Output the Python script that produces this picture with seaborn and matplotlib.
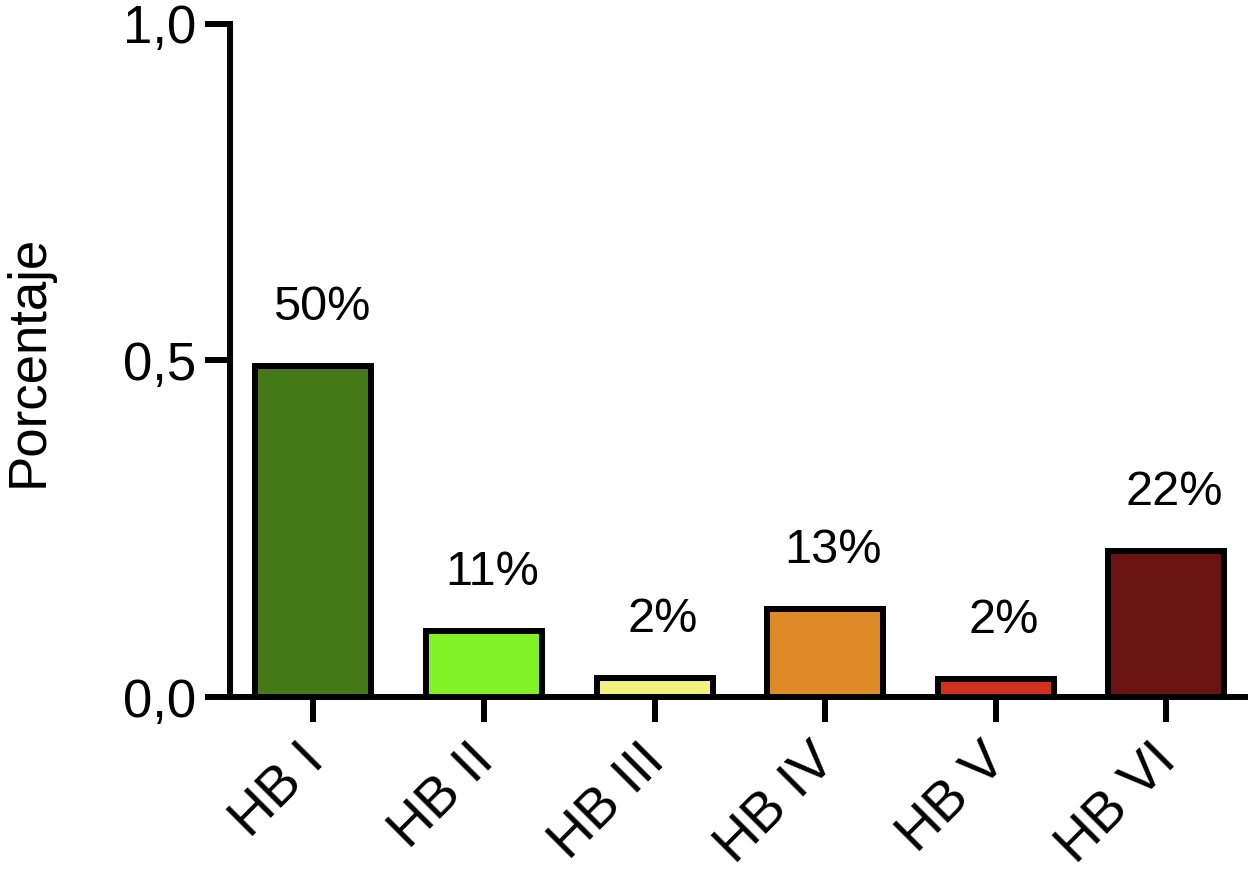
"""Bar chart: distribution of House-Brackmann grades."""
import matplotlib
matplotlib.use("Agg")
import matplotlib.pyplot as plt
import matplotlib.ticker as mticker
import matplotlib.transforms as mtransforms
import pandas as pd
import seaborn as sns

grades = ["HB I", "HB II", "HB III", "HB IV", "HB V", "HB VI"]
proportions = [0.492, 0.098, 0.028, 0.131, 0.027, 0.217]
bar_labels = ["50%", "11%", "2%", "13%", "2%", "22%"]
bar_colors = ["#437a17", "#80f226", "#f4f07c", "#de8a26", "#d3301f", "#6a1411"]

sns.set_theme(style="white")
plt.rcParams["font.family"] = ["Liberation Sans", "DejaVu Sans"]
plt.rcParams["text.color"] = "black"
plt.rcParams["xtick.color"] = "black"
plt.rcParams["ytick.color"] = "black"
plt.rcParams["axes.labelcolor"] = "black"

df = pd.DataFrame({"grade": grades, "prop": proportions})

fig = plt.figure(figsize=(12.56, 8.84), dpi=100)
ax = fig.add_axes([0.183, 0.2115, 0.808, 0.7615])

sns.barplot(
    data=df, x="grade", y="prop", hue="grade", palette=bar_colors,
    legend=False, width=0.68, edgecolor="black", linewidth=4.3,
    saturation=1, ax=ax,
)

for patch, txt in zip(ax.patches, bar_labels):
    ax.annotate(
        txt,
        (patch.get_x() + patch.get_width() / 2, patch.get_height()),
        xytext=(6, 26), textcoords="offset points",
        ha="center", va="bottom", fontsize=35, color="black",
    )

ax.set_ylim(0, 1.0)
ax.set_xlim(-0.49, 5.46)
ax.set_yticks([0, 0.5, 1.0])
ax.yaxis.set_major_formatter(mticker.FuncFormatter(lambda v, _: f"{v:.1f}".replace(".", ",")))
ax.set_xlabel("")
ax.set_ylabel("Porcentaje", fontsize=38, labelpad=50)

for side in ["top", "right"]:
    ax.spines[side].set_visible(False)
for side in ["left", "bottom"]:
    ax.spines[side].set_linewidth(4.3)
    ax.spines[side].set_color("black")
    ax.spines[side].set_zorder(5)

ax.tick_params(axis="y", direction="out", length=18, width=4.3, labelsize=38,
               left=True, pad=6)
ax.tick_params(axis="x", direction="out", length=18, width=4.3, labelsize=40,
               bottom=True, pad=9)
shift = mtransforms.ScaledTranslation(-16 / 100, 0, fig.dpi_scale_trans)
for lbl in ax.get_xticklabels():
    lbl.set_rotation(45)
    lbl.set_ha("right")
    lbl.set_va("top")
    lbl.set_rotation_mode("anchor")
    lbl.set_transform(lbl.get_transform() + shift)

fig.savefig("out.png", dpi=100)
plt.close(fig)
